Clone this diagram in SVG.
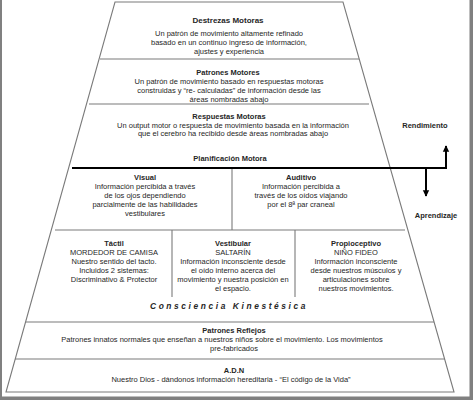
<svg xmlns="http://www.w3.org/2000/svg" width="473" height="400" viewBox="0 0 473 400">
<style>
.t{font-family:"Liberation Sans",Arial,sans-serif;font-size:7.5px;fill:#262626;text-anchor:middle}
.b{font-weight:bold}
.h8{font-size:8px}
.h7{font-size:7.5px}
.ln{stroke:#7a7a7a;stroke-width:1.1;fill:none}
.ax{stroke:#000;stroke-width:2;fill:none}
</style>
<defs>
<marker id="ah" viewBox="0 0 10 10" refX="9" refY="5" markerWidth="3.2" markerHeight="3.6" orient="auto">
<path d="M0,0 L10,5 L0,10 Z" fill="#000"/>
</marker>
</defs>
<rect x="0" y="0" width="473" height="400" fill="#fff"/>
<g id="frame">
<rect x="0" y="0" width="2" height="400" fill="#808080"/>
<rect x="469.5" y="0" width="3.5" height="400" fill="#808080"/>
<rect x="0" y="396.5" width="473" height="3.5" fill="#808080"/>
</g>
<g id="pyramid">
<polygon class="ln" points="115,2 343,2 454,392 6,392"/>
<line class="ln" x1="100" y1="59" x2="359" y2="59"/>
<line class="ln" x1="89" y1="104" x2="369" y2="104"/>
<line class="ln" x1="55" y1="230" x2="405" y2="230"/>
<line class="ln" x1="26" y1="322" x2="434" y2="322"/>
<line class="ln" x1="15" y1="359" x2="445" y2="359"/>
<line class="ln" x1="232" y1="168" x2="232" y2="230"/>
<line class="ln" x1="172" y1="230" x2="172" y2="297"/>
<line class="ln" x1="295" y1="230" x2="295" y2="297"/>
</g>
<g id="connectors">
<line class="ax" x1="72" y1="168" x2="447" y2="168"/>
<line class="ax" x1="446" y1="169" x2="446" y2="146" marker-end="url(#ah)"/>
<line class="ax" x1="426" y1="167" x2="426" y2="196" marker-end="url(#ah)"/>
</g>
<g id="destrezas">
<text class="t b h8" x="228" y="23">Destrezas  Motoras</text>
<text class="t" x="229" y="36">Un patrón de movimiento altamente  refinado</text>
<text class="t" x="229" y="45">basado en un continuo ingreso de información,</text>
<text class="t" x="229" y="54">ajustes y experiencia</text>
</g>
<g id="patrones-motores">
<text class="t b h7" x="228" y="75">Patrones Motores</text>
<text class="t" x="229" y="84">Un patrón de movimiento basado  en respuestas motoras</text>
<text class="t" x="229" y="93">construidas y “re- calculadas” de información desde las</text>
<text class="t" x="229" y="102">áreas nombradas abajo</text>
</g>
<g id="respuestas-motoras">
<text class="t b h7" x="229" y="119">Respuestas Motoras</text>
<text class="t" x="233" y="128">Un output motor o respuesta de movimiento basada en la información</text>
<text class="t" x="233" y="136">que el cerebro ha recibido desde áreas nombradas abajo</text>
</g>
<g id="planificacion">
<text class="t b h7" x="230" y="161">Planificación  Motora</text>
</g>
<g id="rendimiento">
<text class="t b h7" x="425" y="128">Rendimiento</text>
</g>
<g id="aprendizaje">
<text class="t b h7" x="436" y="218">Aprendizaje</text>
</g>
<g id="visual">
<text class="t b h7" x="145" y="180">Visual</text>
<text class="t" x="145" y="189">Información percibida a través</text>
<text class="t" x="145" y="198">de los ojos dependiendo</text>
<text class="t" x="145" y="207">parcialmente de las habilidades</text>
<text class="t" x="145" y="216">vestibulares</text>
</g>
<g id="auditivo">
<text class="t b h7" x="301" y="180">Auditivo</text>
<text class="t" x="301" y="189">Información percibida a</text>
<text class="t" x="301" y="198">través de los oídos viajando</text>
<text class="t" x="301" y="207">por el 8ª par craneal</text>
</g>
<g id="tactil">
<text class="t b h7" x="114" y="246">Táctil</text>
<text class="t" x="114" y="255">MORDEDOR  DE CAMISA</text>
<text class="t" x="114" y="264">Nuestro sentido del tacto.</text>
<text class="t" x="114" y="273">Incluidos 2 sistemas:</text>
<text class="t" x="114" y="282">Discriminativo  &amp; Protector</text>
</g>
<g id="vestibular">
<text class="t b h7" x="233" y="246">Vestibular</text>
<text class="t" x="233" y="255">SALTARÍN</text>
<text class="t" x="233" y="264">Información inconsciente desde</text>
<text class="t" x="233" y="273">el oído interno acerca del</text>
<text class="t" x="233" y="282">movimiento y nuestra posición en</text>
<text class="t" x="233" y="291">el espacio.</text>
</g>
<g id="propioceptivo">
<text class="t b h7" x="356" y="246">Propioceptivo</text>
<text class="t" x="356" y="255">NIÑO FIDEO</text>
<text class="t" x="356" y="264">Información inconsciente</text>
<text class="t" x="356" y="273">desde nuestros músculos y</text>
<text class="t" x="356" y="282">articulaciones sobre</text>
<text class="t" x="356" y="291">nuestros movimientos.</text>
</g>
<g id="consciencia">
<text class="t b" x="229" y="309" style="font-size:8.4px;font-style:italic;letter-spacing:2.6px">Consciencia Kinestésica</text>
</g>
<g id="reflejos">
<text class="t b h7" x="234" y="333">Patrones Reflejos</text>
<text class="t" x="222" y="342">Patrones innatos  normales que enseñan a nuestros niños sobre el movimiento.  Los movimientos</text>
<text class="t" x="234" y="351">pre-fabricados</text>
</g>
<g id="adn">
<text class="t b h7" x="234" y="373">A.D.N</text>
<text class="t" x="231" y="382">Nuestro Dios - dándonos información hereditaria - “El código de la Vida”</text>
</g>
</svg>
